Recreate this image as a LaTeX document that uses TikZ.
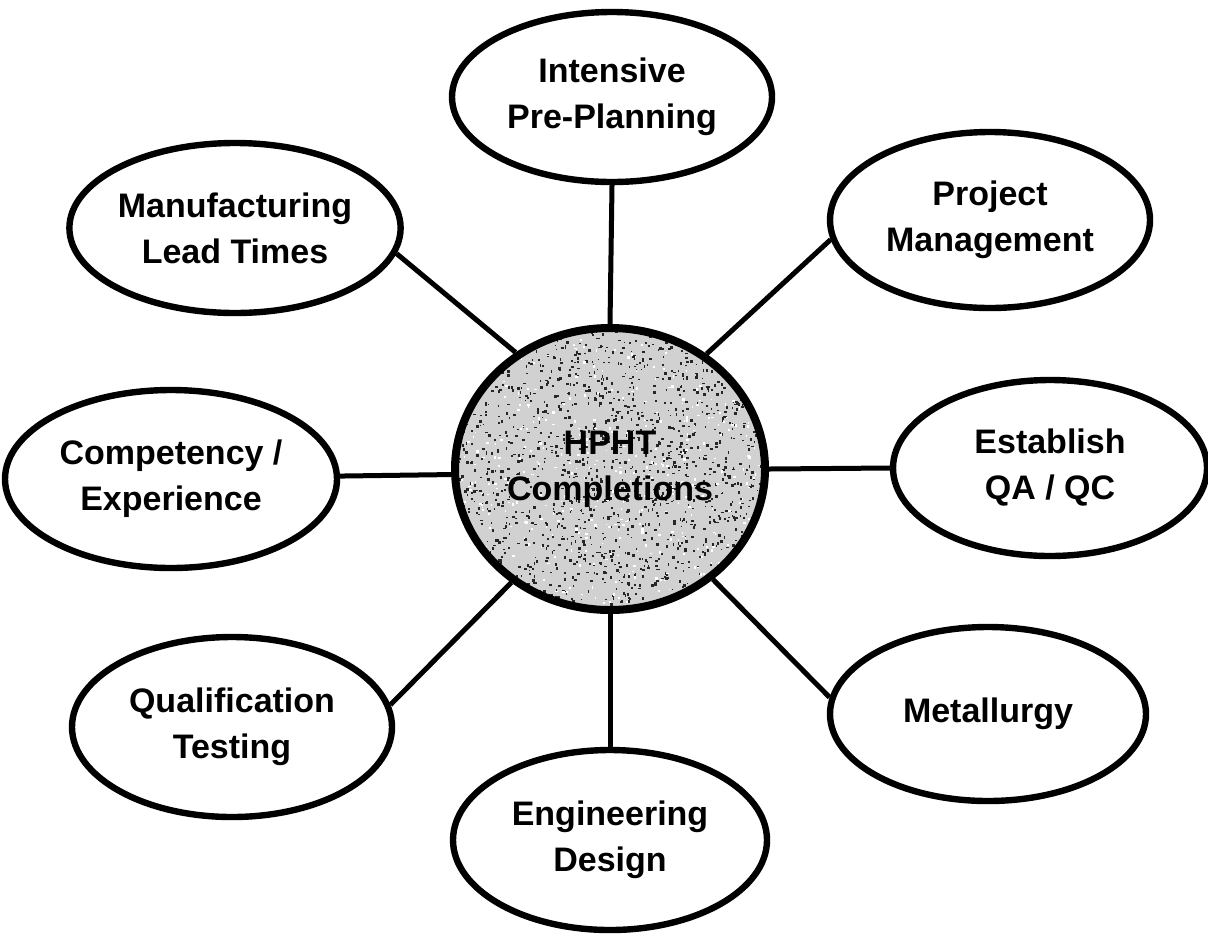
\documentclass[tikz,border=0pt]{standalone}
\usepackage{fontspec}
\setmainfont{Liberation Sans}
\usetikzlibrary{shapes.geometric}
\begin{document}
\pgfmathsetseed{4711}
\begin{tikzpicture}[x=0.5pt,y=-0.5pt,
  topic/.style={ellipse, draw=black, line width=3.2pt, fill=white,
    inner sep=0pt, align=center,
    font=\fontsize{17}{23}\selectfont\bfseries},
  hubnode/.style={ellipse, draw=black, line width=4pt, fill=black!18,
    inner sep=0pt, align=center,
    font=\fontsize{17}{23}\selectfont\bfseries,
    path picture={
      \foreach \k in {1,...,1700}{
        \fill[black!85]
          ([shift={(rand*80pt,rand*73pt)}]path picture bounding box.center)
          rectangle ++(0.5pt+rnd*1.1pt,0.5pt+rnd*1.1pt);
      }
      \foreach \k in {1,...,500}{
        \fill[white]
          ([shift={(rand*80pt,rand*73pt)}]path picture bounding box.center)
          rectangle ++(0.5pt+rnd*1pt,0.5pt+rnd*1pt);
      }
    }},
  link/.style={draw=black, line width=2.5pt}]

\useasboundingbox (0,0) rectangle (1208,938);

% central hub
\node[hubnode, minimum width=155pt, minimum height=141pt] (hub) at (610,469)
  {HPHT\\Completions};

% surrounding topics
\node[topic, minimum width=160pt, minimum height=85pt] (intens) at (612,97)
  {Intensive\\Pre-Planning};
\node[topic, minimum width=158pt, minimum height=85pt] (manu) at (235,228)
  {Manufacturing\\Lead Times};
\node[topic, minimum width=160pt, minimum height=88pt] (proj) at (990,220)
  {Project\\Management};
\node[topic, minimum width=166pt, minimum height=89pt] (comp) at (171,479)
  {Competency /\\Experience};
\node[topic, minimum width=157pt, minimum height=88pt] (est) at (1050,468)
  {Establish\\QA / QC};
\node[topic, minimum width=160pt, minimum height=90pt] (qual) at (232,727)
  {Qualification\\Testing};
\node[topic, minimum width=158pt, minimum height=87pt] (metal) at (988,714)
  {Metallurgy};
\node[topic, minimum width=157pt, minimum height=90pt] (eng) at (610,840)
  {Engineering\\Design};

% spokes
\draw[link] (intens.south) -- (hub.north);
\draw[link] (eng.north) -- (hub.south);
\draw[link] (comp.1) -- (hub.182);
\draw[link] (est.west) -- (hub.east);
\draw[link] (manu.-9) -- (hub.129);
\draw[link] (proj.187) -- (hub.50);
\draw[link] (qual.8) -- (hub.229);
\draw[link] (metal.174) -- (hub.-47);

\end{tikzpicture}
\end{document}
